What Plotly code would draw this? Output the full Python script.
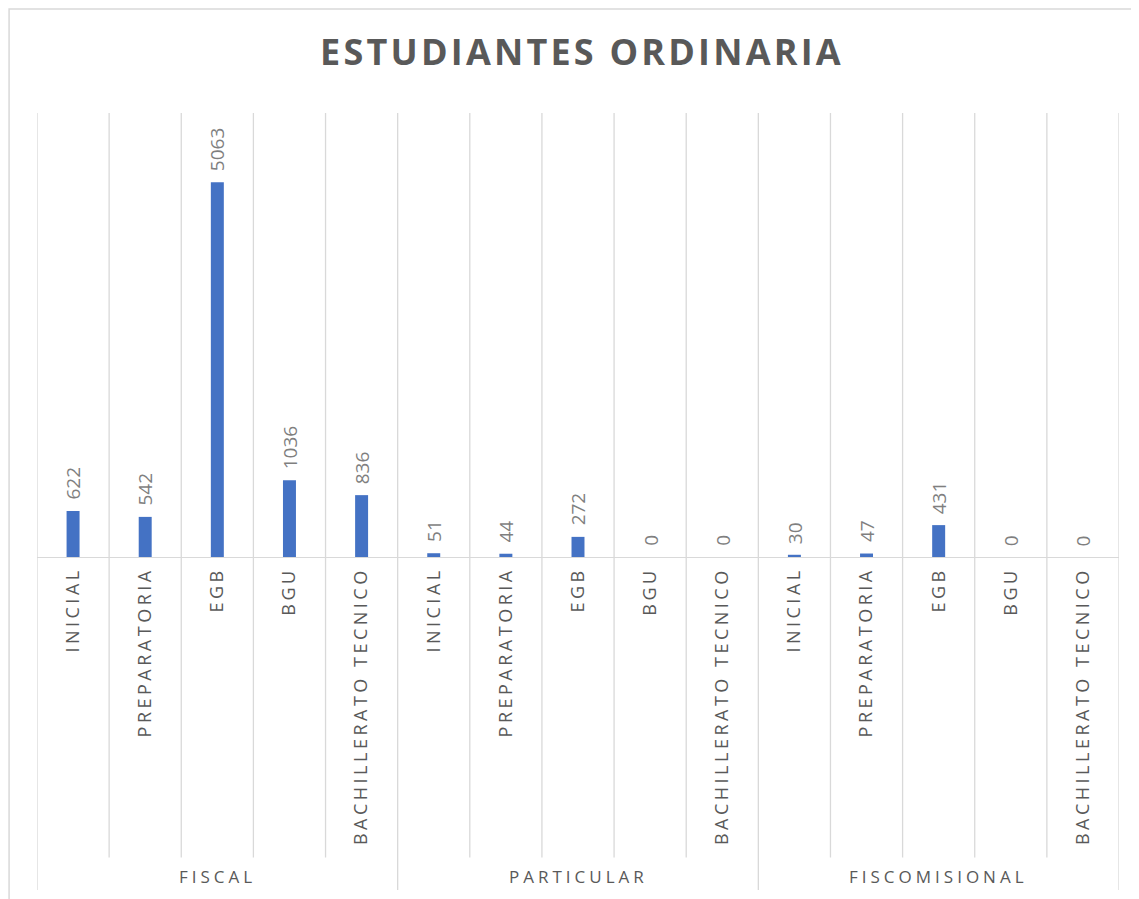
import plotly.graph_objects as go

# datos
groups = ["FISCAL", "PARTICULAR", "FISCOMISIONAL"]
levels = ["INICIAL", "PREPARATORIA", "EGB", "BGU", "BACHILLERATO TECNICO"]
fiscal = [622, 542, 5063, 1036, 836]
particular = [51, 44, 272, 0, 0]
fiscomisional = [30, 47, 431, 0, 0]

values = fiscal + particular + fiscomisional
cats = levels * len(groups)
xs = list(range(len(values)))

GRID = "#d9d9d9"
TXT = "#595959"
FONT = "Open Sans"


def spaced(s, px):
    return '<span style="letter-spacing:%spx">%s</span>' % (px, s)


fig = go.Figure()
fig.add_trace(go.Bar(x=xs, y=values, width=0.18, marker_color="#4472C4",
                     marker_line_width=0, hoverinfo="skip"))

# etiquetas de datos
for x, v in zip(xs, values):
    fig.add_annotation(x=x, y=v, text=str(v), textangle=-90, showarrow=False,
                       yanchor="bottom", xanchor="center", yshift=9,
                       font=dict(family=FONT, size=19, color="#7f7f7f"))

# lineas de division
n = len(values)
for i in range(n + 1):
    bottom = -0.75 if i % len(levels) == 0 else -0.677
    fig.add_shape(type="line", xref="x", yref="paper", x0=i - 0.5, x1=i - 0.5,
                  y0=bottom, y1=1, line=dict(color=GRID, width=1.3), layer="below")

# etiquetas de grupo
for g, name in enumerate(groups):
    center = g * len(levels) + (len(levels) - 1) / 2
    fig.add_annotation(x=center, y=-0.72, xref="x", yref="paper", text=spaced(name, 4),
                       showarrow=False, yanchor="middle",
                       font=dict(family=FONT, size=17, color=TXT))

# borde del grafico
fig.add_shape(type="rect", xref="paper", yref="paper", x0=-0.0258, x1=1.03,
              y0=-0.8, y1=1.234, line=dict(color=GRID, width=1.5), layer="below")

fig.update_layout(
    width=1131, height=891,
    margin=dict(l=29, r=20, t=105, b=342),
    paper_bgcolor="white", plot_bgcolor="white",
    showlegend=False,
    title=dict(text="<b>" + spaced("ESTUDIANTES ORDINARIA", 3.2) + "</b>",
               x=0.5075, xanchor="center", y=0.95, yanchor="middle",
               font=dict(family=FONT, size=36, color=TXT)),
    xaxis=dict(range=[-0.5, n - 0.5], tickmode="array", tickvals=xs,
               ticktext=[spaced(c, 3.5) for c in cats], tickangle=-90,
               showgrid=False, zeroline=False, showline=True, linecolor=GRID,
               linewidth=1.3, ticks="", ticklabelstandoff=2,
               tickfont=dict(family=FONT, size=18, color=TXT)),
    yaxis=dict(range=[0, 6000], visible=False, showgrid=False, zeroline=False),
)

fig.write_html("out.html")
